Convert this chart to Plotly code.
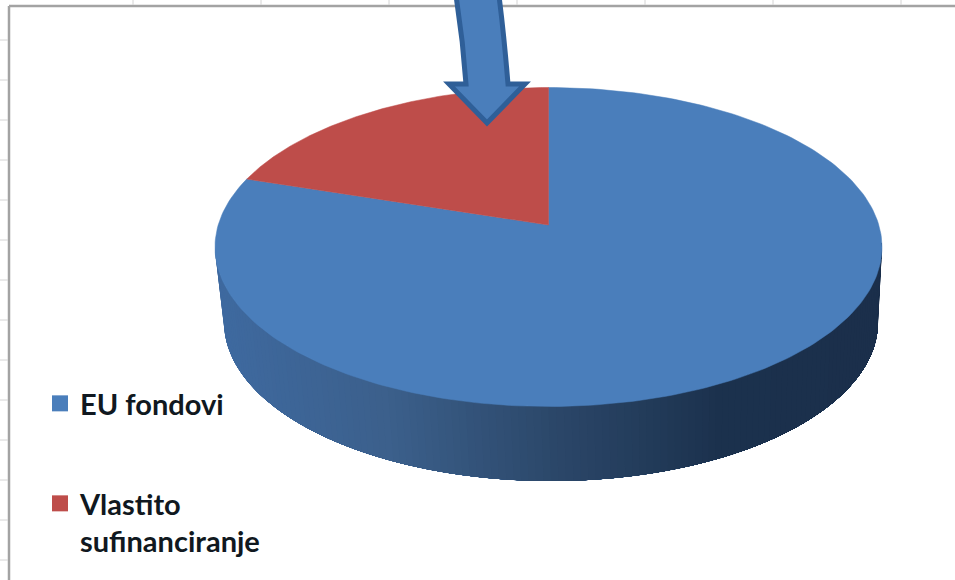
import numpy as np
import plotly.graph_objects as go

categories = ["EU fondovi", "Vlastito<br>sufinanciranje"]
values = [82, 18]
slice_colors = ["#4a7ebb", "#be4d4a"]
side_stops = [0.0, 0.25, 0.5, 0.75, 1.0]
side_colors = [(63, 106, 160), (60, 96, 140), (44, 72, 106), (28, 50, 78), (27, 47, 75)]

W, H = 955, 580
cx, cy, rx, ry = 548.5, 247, 333.5, 159.5
apex_y = 225
bcx, bcy, brx, bry = 551, 322, 327, 159


def top_pt(t):
    return cx + rx * np.sin(t), cy - ry * np.cos(t)


def bot_pt(t):
    return bcx + brx * np.sin(t), bcy - bry * np.cos(t)


fig = go.Figure()

# side wall: each strip runs to the right-hand end and is overpainted by the next,
# so no seams appear between the shades
left_t, right_t = 3 * np.pi / 2 + 0.03, np.pi / 2 - 0.03
for t0 in np.linspace(left_t, right_t, 140, endpoint=False):
    seg = np.linspace(t0, right_t, 120)
    xt, yt = top_pt(seg)
    xb, yb = bot_pt(seg[::-1])
    f = (np.sin(t0) + 1) / 2
    col = [np.interp(f, side_stops, [c[k] for c in side_colors]) for k in range(3)]
    colour = "rgb(%d,%d,%d)" % tuple(col)
    fig.add_trace(go.Scatter(
        x=np.r_[xt, xb], y=np.r_[yt, yb], mode="lines", fill="toself",
        fillcolor=colour, line=dict(width=0),
        hoverinfo="skip", showlegend=False))

# top face: clockwise from twelve o'clock, red slice last
total = sum(values)
start = 0.0
for name, val, colour in zip(categories, values, slice_colors):
    sweep = 2 * np.pi * val / total
    t = np.linspace(start, start + sweep, 240)
    x, y = top_pt(t)
    fig.add_trace(go.Scatter(
        x=np.r_[cx, x, cx], y=np.r_[apex_y, y, apex_y], mode="lines", fill="toself",
        fillcolor=colour, line=dict(color=colour, width=0.5),
        name=name, hoverinfo="name", showlegend=False))
    start += sweep

# legend entries
for i, (name, colour) in enumerate(zip(categories, slice_colors)):
    fig.add_trace(go.Scatter(
        x=[None], y=[None], mode="markers", name=name,
        marker=dict(symbol="square", size=16, color=colour),
        legend="legend" if i == 0 else "legend2"))

# worksheet frame and gridlines behind the chart
shapes = [
    dict(type="line", xref="x", yref="y", x0=9, x1=W, y0=6, y1=6, layer="below",
         line=dict(color="#a3a3a3", width=2.5)),
    dict(type="line", xref="x", yref="y", x0=9, x1=9, y0=6, y1=H, layer="below",
         line=dict(color="#a3a3a3", width=2.5)),
]
for gx in range(133, W, 128):
    shapes.append(dict(type="line", xref="x", yref="y", x0=gx, x1=gx, y0=0, y1=5, layer="below",
                       line=dict(color="#d4d4d4", width=1)))
for gy in range(40, H, 40):
    shapes.append(dict(type="line", xref="x", yref="y", x0=0, x1=8, y0=gy, y1=gy, layer="below",
                       line=dict(color="#d4d4d4", width=1)))

# arrow callout over the pie
shapes.append(dict(
    type="path", xref="x", yref="y",
    path="M 456 -4 Q 463 40 466 84 L 449 84 L 487 123 L 525 84 L 508 84 Q 504 35 499 -4 Z",
    fillcolor="#4a7ebb", line=dict(color="#2f5f98", width=5), layer="above"))

legend_font = dict(family="Lato, Carlito, sans-serif", size=29, color="#101820", weight="bold")
legend_base = dict(xref="paper", yref="paper", xanchor="left", yanchor="top", bgcolor="rgba(0,0,0,0)",
                   font=legend_font, itemsizing="trace", itemwidth=30, borderwidth=0,
                   tracegroupgap=0, valign="top")

fig.update_layout(
    width=W, height=H, margin=dict(l=0, r=0, t=0, b=0),
    paper_bgcolor="white", plot_bgcolor="white",
    xaxis=dict(range=[0, W], visible=False, fixedrange=True),
    yaxis=dict(range=[H, 0], visible=False, fixedrange=True),
    shapes=shapes,
    legend=dict(x=40 / W, y=1 - 378 / H, **legend_base),
    legend2=dict(x=40 / W, y=1 - 478 / H, **legend_base),
    showlegend=True,
)

fig.write_html("out.html", config=dict(displayModeBar=False),
               post_script="document.body.style.margin='0';")
